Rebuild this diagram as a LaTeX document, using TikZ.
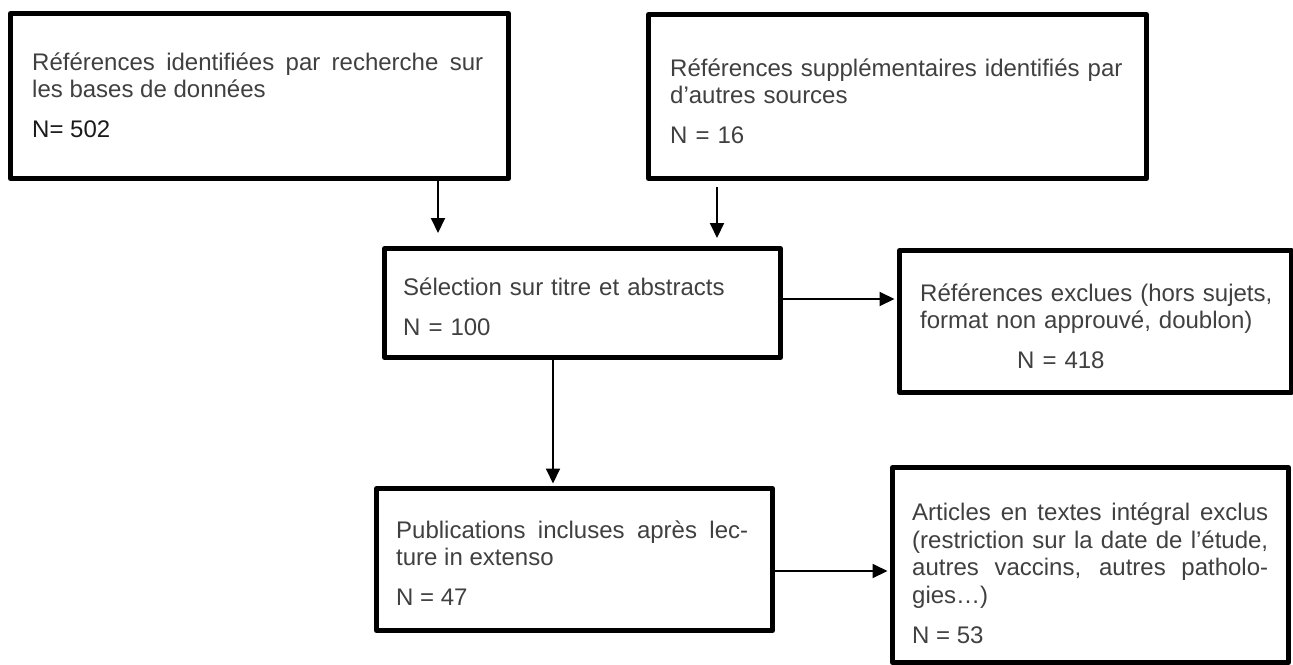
\documentclass[tikz,border=0pt]{standalone}
\usepackage{fontspec}
\setmainfont{Liberation Sans}
\usetikzlibrary{arrows.meta}
\definecolor{txtgray}{HTML}{404040}
\definecolor{ntxt}{HTML}{1A1A1A}
\setlength{\parindent}{0pt}
\tolerance=9999
\hyphenpenalty=10000
\begin{document}
\begin{tikzpicture}[x=1pt,y=-1pt,
  box/.style={draw=black, line width=5pt, line join=round, inner sep=0pt, anchor=north west},
  txt/.style={anchor=north west, inner sep=0pt, text=txtgray,
    font=\fontsize{24}{27.6}\selectfont},
  jtxt/.style={txt, align=justify},
  ltxt/.style={txt, align=left},
  arr/.style={line width=2pt, -{Triangle[length=15pt,width=14pt]}}
]
\fill[white] (0,0) rectangle (1293,664);
\useasboundingbox (0,0) rectangle (1293,664);

% boxes
\node[box, minimum width=498pt, minimum height=165pt] (b1) at (8,11) {};
\node[box, minimum width=498pt, minimum height=164pt] (b2) at (646,12) {};
\node[box, minimum width=396pt, minimum height=109pt] (b3) at (382,246) {};
\node[box, minimum width=392pt, minimum height=142pt] (b4) at (897,248) {};
\node[box, minimum width=396pt, minimum height=142pt] (b5) at (374,486) {};
\node[box, minimum width=396pt, minimum height=195pt] (b6) at (890,465) {};

% texts
\node[jtxt, text width=451pt] (t1) at (32,50.7)
  {\strut Références identifiées par recherche sur les bases de données\par\vspace{12.4pt}{\color{ntxt}N= 502}};
\node[ltxt, text width=460pt] (t2) at (670,56.7)
  {\strut Références supplémentaires identifiés par d’autres sources\par\vspace{12.4pt}N = 16};
\node[ltxt, text width=360pt] (t3) at (403,275.7)
  {\strut Sélection sur titre et abstracts\par\vspace{12.4pt}N = 100};
\node[ltxt, text width=362pt] (t4) at (920,281.7)
  {\strut Références exclues (hors sujets,\\format non approuvé, doublon)\par\vspace{12.4pt}\hspace*{97pt}N = 418};
\node[jtxt, text width=352pt] (t5) at (396,518.7)
  {\strut Publications incluses après lec-\linebreak ture in extenso\par\vspace{12.4pt}N = 47};
\node[jtxt, text width=356pt] (t6) at (912,500.9)
  {\strut Articles en textes intégral exclus\linebreak (restriction sur la date de l’étude,\linebreak autres vaccins, autres patholo-\linebreak gies…)\par\vspace{12.4pt}N = 53};

% connectors
\coordinate (a1) at (438,233);
\coordinate (a2) at (717,238);
\coordinate (a3) at (0,299);
\coordinate (a4) at (553,0);
\coordinate (a5) at (0,571);
\draw[arr] (b1.south -| a1) -- (a1);
\draw[arr] ([yshift=-6pt]b2.south -| a2) -- (a2);
\draw[arr, shorten >=2.5pt] (b3.east |- a3) -- (b4.west |- a3);
\draw[arr, shorten >=2.5pt] (b3.south -| a4) -- (b5.north -| a4);
\draw[arr, shorten >=2.5pt] (b5.east |- a5) -- (b6.west |- a5);
\end{tikzpicture}
\end{document}
